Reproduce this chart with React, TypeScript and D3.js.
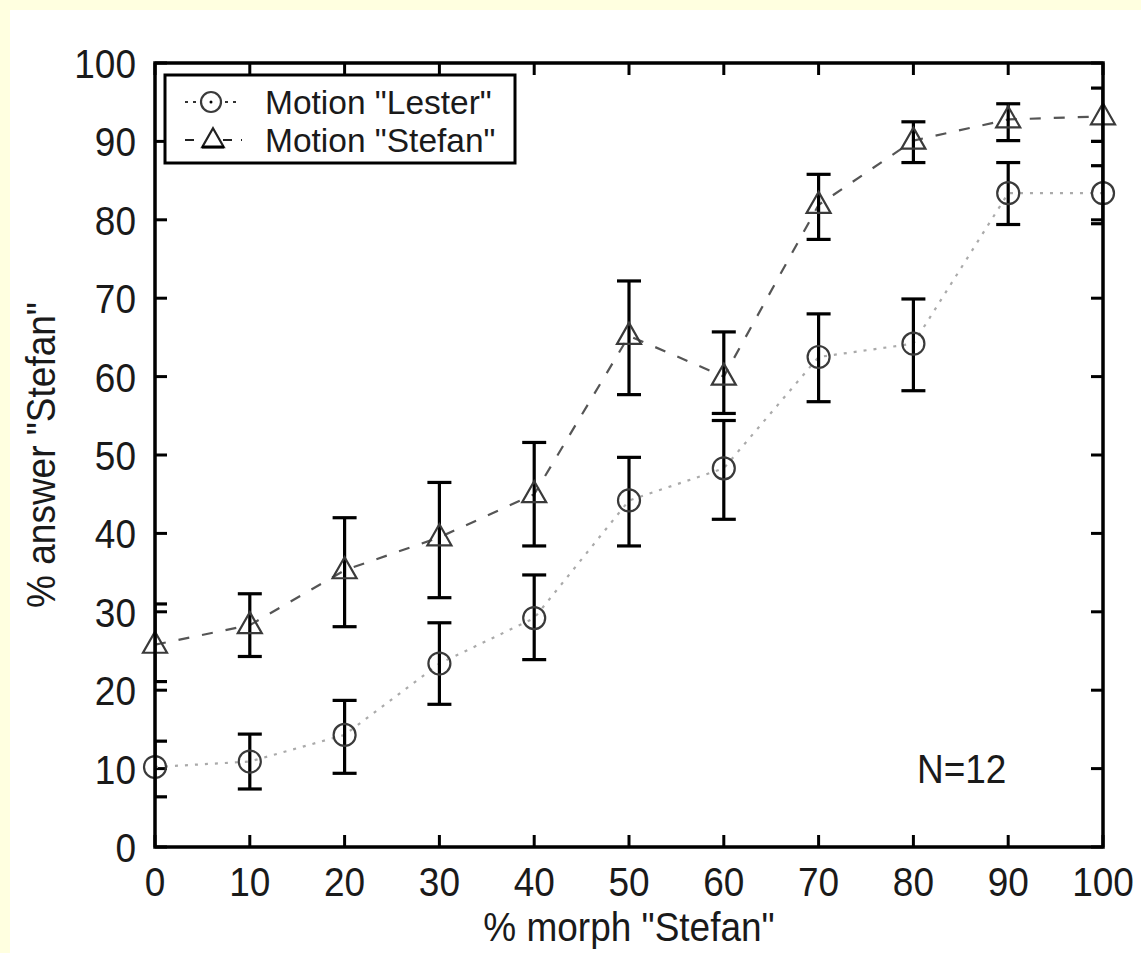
import * as d3 from 'd3'

// % morph "Stefan"
const morph = [0, 10, 20, 30, 40, 50, 60, 70, 80, 90, 100]

// Motion "Lester" (circles, dotted)
const lester = [10.2, 10.9, 14.3, 23.4, 29.2, 44.2, 48.3, 62.5, 64.2, 83.4, 83.4]
const lesterLo = [6.4, 7.4, 9.4, 18.2, 23.9, 38.4, 41.8, 56.8, 58.2, 79.4, 79.5]
const lesterHi = [13.5, 14.4, 18.7, 28.6, 34.7, 49.7, 54.4, 68.0, 69.9, 87.3, 86.9]

// Motion "Stefan" (triangles, dashed)
const stefan = [25.8, 28.3, 35.3, 39.5, 45.0, 65.2, 60.0, 81.9, 90.1, 92.8, 93.2]
const stefanLo = [21.1, 24.3, 28.1, 31.8, 38.4, 57.7, 55.3, 77.5, 87.3, 90.1, 90.0]
const stefanHi = [31.0, 32.3, 42.0, 46.5, 51.6, 72.2, 65.7, 85.8, 92.5, 94.8, 96.8]

const xTicks = [0, 10, 20, 30, 40, 50, 60, 70, 80, 90, 100]
const yTicks = [0, 10, 20, 30, 40, 50, 60, 70, 80, 90, 100]

const legendLabels = ['Motion "Lester"', 'Motion "Stefan"']

export default function App() {
  const W = 1141
  const H = 953
  const left = 155, right = 1103, top = 63, bottom = 847
  const x = d3.scaleLinear().domain([0, 100]).range([left, right])
  const y = d3.scaleLinear().domain([0, 100]).range([bottom, top])
  const font = '"Liberation Sans", Arial, Helvetica, sans-serif'
  const tickLen = 12
  const cap = 12

  const line = d3.line<number>()
    .x((_, i) => x(morph[i]))
    .y(d => y(d))

  const tri = (cx: number, cy: number, s = 1) =>
    `M${cx},${cy - 13 * s} L${cx + 12 * s},${cy + 8 * s} L${cx - 12 * s},${cy + 8 * s} Z`

  const errBars = (lo: number[], hi: number[], key: string) =>
    morph.map((m, i) => (
      <g key={key + i}>
        <line x1={x(m)} x2={x(m)} y1={y(lo[i])} y2={y(hi[i])} />
        <line x1={x(m) - cap} x2={x(m) + cap} y1={y(lo[i])} y2={y(lo[i])} />
        <line x1={x(m) - cap} x2={x(m) + cap} y1={y(hi[i])} y2={y(hi[i])} />
      </g>
    ))

  const sy = 1.1 // tick fonts look a bit tall

  return (
    <svg width={W} height={H} style={{position: 'absolute', left: 0, top: 0}}>
      <rect x={0} y={0} width={W} height={H} fill="#ffffe0" />
      <rect x={10} y={10} width={W - 10} height={H - 10} fill="#ffffff" />
      <defs>
        <clipPath id="plot">
          <rect x={left} y={top} width={right - left} height={bottom - top} />
        </clipPath>
      </defs>

      {/* ticks, on all four sides, pointing inward */}
      <g stroke="#000" strokeWidth={3}>
        {xTicks.map(t => (
          <g key={'xt' + t}>
            <line x1={x(t)} x2={x(t)} y1={bottom} y2={bottom - tickLen} />
            <line x1={x(t)} x2={x(t)} y1={top} y2={top + tickLen} />
          </g>
        ))}
        {yTicks.map(t => (
          <g key={'yt' + t}>
            <line x1={left} x2={left + tickLen} y1={y(t)} y2={y(t)} />
            <line x1={right} x2={right - tickLen} y1={y(t)} y2={y(t)} />
          </g>
        ))}
      </g>

      {/* tick labels */}
      <g fontFamily={font} fontSize={37} fill="#1a1a1a">
        {xTicks.map(t => (
          <text key={'xl' + t} textAnchor="middle" transform={`translate(${x(t)},${896}) scale(1,${sy})`}>{t}</text>
        ))}
        {yTicks.map(t => (
          <text key={'yl' + t} textAnchor="end" transform={`translate(${136},${y(t) + 15}) scale(1,${sy})`}>{t}</text>
        ))}
        <text textAnchor="middle" transform={`translate(${(left + right) / 2},${941}) scale(1,${sy})`}>% morph "Stefan"</text>
        <text textAnchor="middle" transform={`translate(${55},${(top + bottom) / 2}) rotate(-90) scale(1,${sy})`}>% answer "Stefan"</text>
        <text transform={`translate(${917},${783}) scale(1,${sy})`}>N=12</text>
      </g>

      {/* lines */}
      <g clipPath="url(#plot)" fill="none">
        <path d={line(lester) ?? ''} stroke="#aaaaaa" strokeWidth={2.2} strokeDasharray="3,7" />
        <path d={line(stefan) ?? ''} stroke="#555555" strokeWidth={2.2} strokeDasharray="11,13" />
      </g>

      {/* error bars */}
      <g clipPath="url(#plot)" stroke="#000" strokeWidth={3.2}>
        {errBars(lesterLo, lesterHi, 'el')}
        {errBars(stefanLo, stefanHi, 'es')}
      </g>

      {/* markers */}
      <g fill="none" stroke="#3a3a3a" strokeWidth={2.2}>
        {lester.map((v, i) => <circle key={'c' + i} cx={x(morph[i])} cy={y(v)} r={11} />)}
        {stefan.map((v, i) => <path key={'t' + i} d={tri(x(morph[i]), y(v))} />)}
      </g>

      {/* frame */}
      <rect x={left} y={top} width={right - left} height={bottom - top} fill="none" stroke="#000" strokeWidth={3.5} />

      {/* legend */}
      <g>
        <rect x={165} y={75} width={350} height={88} fill="#fff" stroke="#000" strokeWidth={3} />
        <line x1={185} x2={237} y1={102} y2={102} stroke="#333" strokeWidth={2.2} strokeDasharray="3,5" />
        <circle cx={211} cy={102} r={10} fill="#fff" stroke="#3a3a3a" strokeWidth={2.2} />
        <circle cx={211} cy={102} r={1.5} fill="#000" />
        <line x1={185} x2={242} y1={140} y2={140} stroke="#222" strokeWidth={2.2} strokeDasharray="9,29,9" />
        <path d={tri(213, 140, 0.9)} fill="#fff" stroke="#222" strokeWidth={2.2} />
        <line x1={202} x2={224} y1={147} y2={147} stroke="#000" strokeWidth={3} />
        <g fontFamily={font} fontSize={33.5} fill="#1a1a1a">
          {legendLabels.map((l, i) => (
            <text key={l} x={265} y={102 + i * 38 + 12}>{l}</text>
          ))}
        </g>
      </g>
    </svg>
  )
}
